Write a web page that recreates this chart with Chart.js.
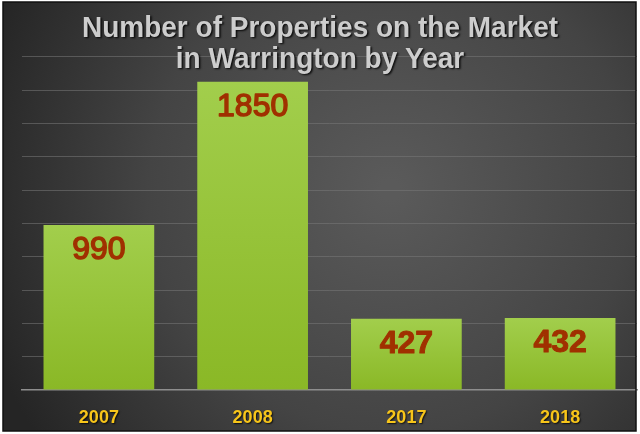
<!DOCTYPE html>
<html><head><meta charset="utf-8">
<script src="https://cdn.jsdelivr.net/npm/chart.js@4.4.0/dist/chart.umd.min.js"></script>
<style>html,body{margin:0;padding:0;background:#fff;overflow:hidden}#wrap{width:640px;height:434px;position:relative}canvas{display:block}</style>
</head><body><div id="wrap"><canvas id="c" width="640" height="434"></canvas></div>
<script>
const TITLE_LINES = ["Number of Properties on the Market", "in Warrington by Year"];
const YEARS = ["2007", "2008", "2017", "2018"];
const PROPERTIES = [990, 1850, 427, 432];
const Y_MIN = 0, Y_MAX = 2000, Y_STEP = 200;

const FONT = "'Liberation Sans', Arial, sans-serif";

const bgPlugin = {
  id: 'bg',
  beforeDraw(chart) {
    const c = chart.ctx;
    c.save();
    c.fillStyle = '#ffffff';
    c.fillRect(0, 0, chart.width, chart.height);
    const g = c.createRadialGradient(390, 190, 10, 390, 190, 430);
    g.addColorStop(0, '#5a5a5a');
    g.addColorStop(0.55, '#444444');
    g.addColorStop(1, '#252525');
    c.fillStyle = g;
    c.fillRect(3, 2, 633, 429);
    c.restore();
  },
  afterLayout(chart) {
    const s = chart.scales.x;
    if (s && !s._shadowPatched) {
      const orig = s.drawLabels.bind(s);
      s.drawLabels = function (ca) {
        const c = this.ctx;
        c.save();
        c.shadowColor = 'rgba(0,0,0,0.75)';
        c.shadowOffsetX = 1; c.shadowOffsetY = 1; c.shadowBlur = 1.5;
        orig(ca);
        c.restore();
      };
      s._shadowPatched = true;
    }
  },
  afterDatasetsDraw(chart) {
    const c = chart.ctx;
    const meta = chart.getDatasetMeta(0);
    c.save();
    c.textAlign = 'center';
    c.textBaseline = 'middle';
    c.fillStyle = '#a03000';
    c.strokeStyle = '#a03000';
    c.lineJoin = 'round';
    meta.data.forEach((el, i) => {
      const v = chart.data.datasets[0].data[i];
      const heavy = v < 500;
      c.font = (heavy ? 'bold ' : '') + '32px ' + FONT;
      c.fillText(String(v), el.x, el.y + 25);
      c.lineWidth = heavy ? 1.0 : 1.5;
      c.strokeText(String(v), el.x, el.y + 25);
    });
    c.restore();
  },
  afterDraw(chart) {
    const c = chart.ctx;
    c.save();
    c.textAlign = 'center';
    c.textBaseline = 'alphabetic';
    c.font = 'bold 28px ' + FONT;
    c.shadowColor = 'rgba(0,0,0,0.85)';
    c.shadowOffsetX = 1.5; c.shadowOffsetY = 1.5; c.shadowBlur = 2;
    c.fillStyle = '#cdcdcd';
    const baselines = [36.7, 67.7];
    TITLE_LINES.forEach((t, i) => {
      c.save();
      c.translate(320, baselines[i]);
      c.scale(1, 1.08);
      c.fillText(t, 0, 0);
      c.restore();
    });
    c.restore();
    c.save();
    c.strokeStyle = '#111111';
    c.lineWidth = 1.5;
    c.strokeRect(3, 2, 633, 429);
    c.restore();
  }
};

new Chart(document.getElementById('c'), {
  type: 'bar',
  data: {
    labels: YEARS,
    datasets: [{
      data: PROPERTIES,
      backgroundColor(ctx) {
        const chart = ctx.chart;
        const ys = chart.scales && chart.scales.y;
        if (!ys || ctx.dataIndex === undefined) return '#94c236';
        const top = ys.getPixelForValue(ctx.raw);
        const bot = ys.getPixelForValue(0);
        if (!isFinite(top) || !isFinite(bot) || top === bot) return '#94c236';
        const g = chart.ctx.createLinearGradient(0, top, 0, bot);
        g.addColorStop(0, '#a2ce4c');
        g.addColorStop(1, '#8ab826');
        return g;
      },
      borderWidth: 0,
      categoryPercentage: 1,
      barPercentage: 0.72
    }]
  },
  options: {
    responsive: false,
    animation: false,
    events: [],
    layout: { padding: { top: 56.7, left: 22, right: 3, bottom: 0 } },
    plugins: { legend: { display: false }, title: { display: false }, tooltip: { enabled: false } },
    scales: {
      x: {
        grid: { display: false },
        border: { display: true, color: '#8e8e8e', width: 1.5 },
        ticks: { color: '#f7c51a', font: { family: FONT, size: 18, weight: 'bold' }, padding: 9 },
        afterFit(s) { s.height = 44; }
      },
      y: {
        min: Y_MIN, max: Y_MAX,
        ticks: { display: false, stepSize: Y_STEP },
        border: { display: false },
        grid: {
          drawTicks: false,
          color(ctx) { return ctx.tick && ctx.tick.value === 0 ? 'rgba(0,0,0,0)' : 'rgba(120,120,120,0.55)'; },
          lineWidth: 1
        },
        afterFit(s) { s.width = 0; }
      }
    }
  },
  plugins: [bgPlugin]
});
</script>
</body></html>
